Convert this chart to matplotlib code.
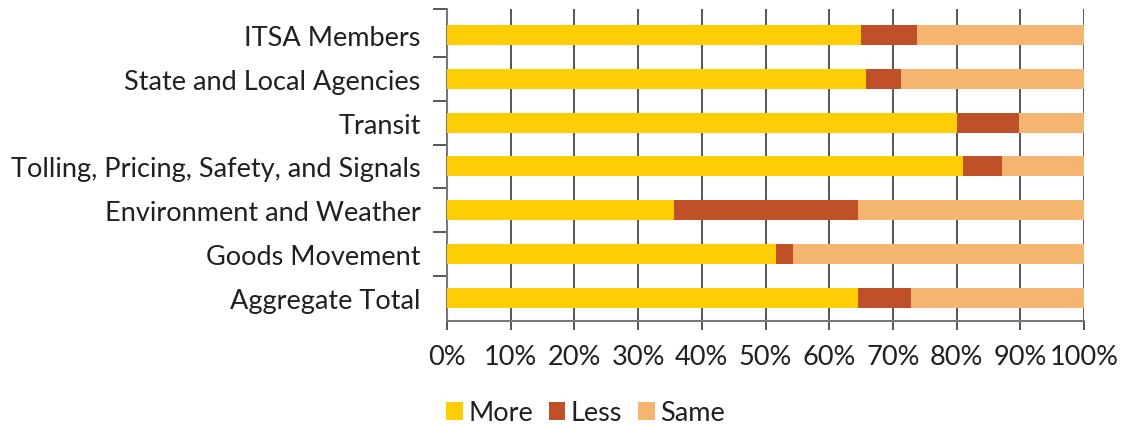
import matplotlib
matplotlib.use("Agg")
import matplotlib.pyplot as plt
from matplotlib.patches import Patch
import numpy as np

plt.rcParams['font.family'] = ['Lato', 'DejaVu Sans']

# Data (share of respondents, percent)
categories = ["ITSA Members", "State and Local Agencies", "Transit",
              "Tolling, Pricing, Safety, and Signals", "Environment and Weather",
              "Goods Movement", "Aggregate Total"]
more = [65.0, 65.8, 80.1, 81.0, 35.6, 51.6, 64.5]
less = [8.8, 5.5, 9.7, 6.1, 28.9, 2.7, 8.3]
same = [100 - m - l for m, l in zip(more, less)]
series_names = ["More", "Less", "Same"]
colors = ["#FDCD06", "#C05027", "#F4B570"]
text_color = "#231F20"

fig = plt.figure(figsize=(11.23, 4.27), dpi=100)
ax = fig.add_axes([447 / 1123, 1 - 322 / 427, 637 / 1123, 312 / 427])

y = np.arange(len(categories))
left = np.zeros(len(categories))
for vals, c in zip([more, less, same], colors):
    ax.barh(y, vals, left=left, height=0.456, color=c, zorder=3)
    left += np.array(vals)

ax.set_xlim(0, 100)
ax.set_ylim(6.525, -0.593)
ax.set_xticks(np.arange(0, 101, 10))
ax.set_xticklabels([f"{v}%" for v in range(0, 101, 10)])
ax.set_yticks(y)
ax.set_yticklabels(categories)
ax.set_yticks([-0.593, 0.5, 1.5, 2.5, 3.5, 4.5, 5.5], minor=True)

# vertical gridlines
ax.grid(axis="x", color="#3a3a3a", linewidth=1.2, zorder=1)
ax.set_axisbelow(True)

for s in ["top", "right"]:
    ax.spines[s].set_visible(False)
ax.spines["left"].set_color("#777777")
ax.spines["bottom"].set_color("#777777")
ax.spines["left"].set_linewidth(1.5)
ax.spines["bottom"].set_linewidth(1.5)

ax.tick_params(axis="x", length=6.5, width=1.2, color="#3a3a3a", pad=10,
               labelsize=19.5, labelcolor=text_color)
ax.tick_params(axis="y", which="major", length=0, pad=19,
               labelsize=19.5, labelcolor=text_color)
ax.tick_params(axis="y", which="minor", length=10, width=1.2, color="#3a3a3a")

handles = [Patch(facecolor=c, edgecolor="none") for c in colors]
fig.legend(handles, series_names, loc="center left",
           bbox_to_anchor=(422 / 1123, 1 - 414 / 427), ncol=3, frameon=False,
           fontsize=19.5, handlelength=0.6, handleheight=0.6, handletextpad=0.2,
           columnspacing=0.6, labelcolor=text_color)

fig.savefig("out.png", dpi=100)
